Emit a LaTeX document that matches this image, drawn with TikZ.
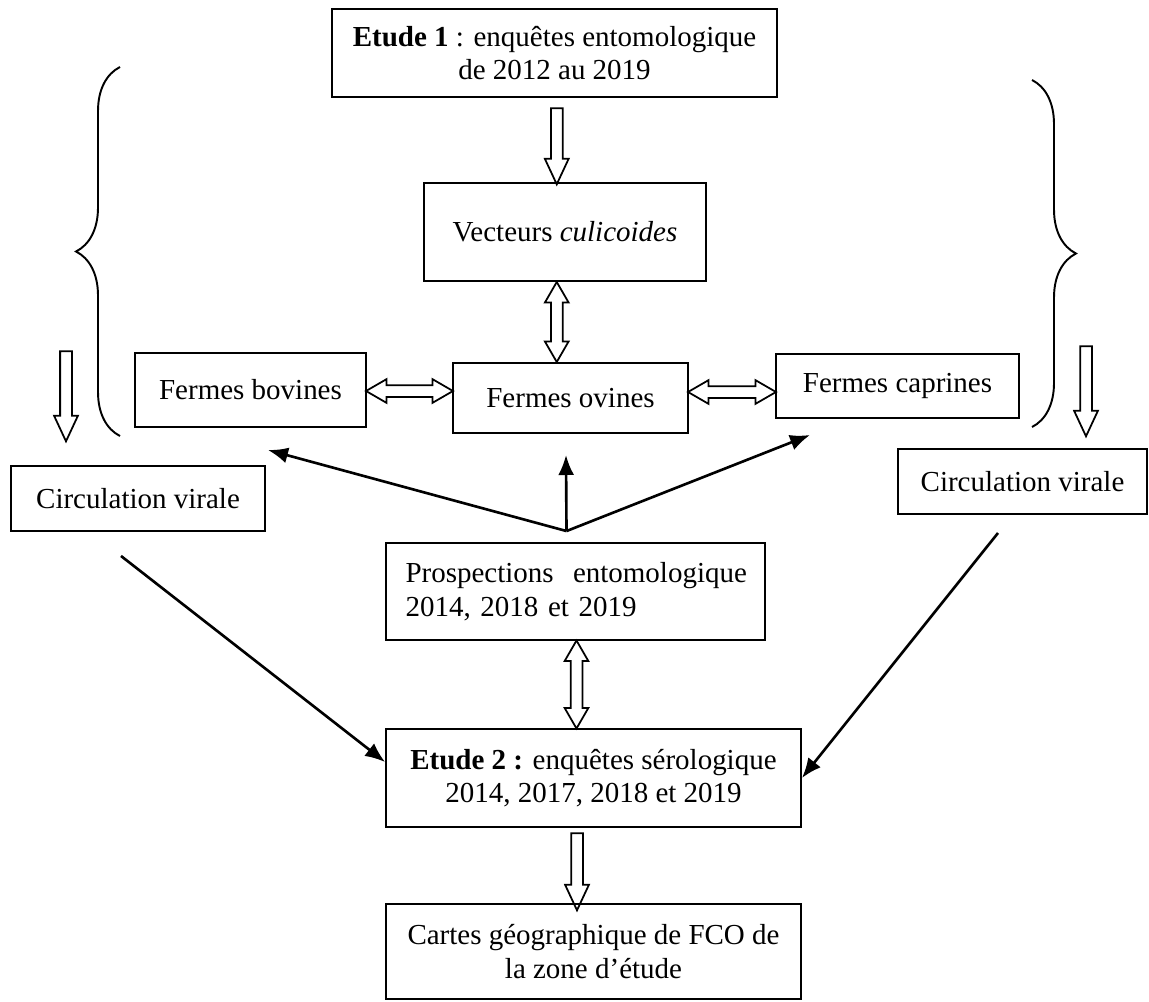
\documentclass[tikz,border=0pt]{standalone}
\usepackage{fontspec}
\setmainfont{Liberation Serif}
\usetikzlibrary{arrows.meta,calc,shapes.arrows,decorations.pathreplacing}
\tikzset{
  box/.style={draw,line width=1.1pt,inner sep=0pt,align=center,font=\fontsize{16.5}{19}\selectfont},
  hollow/.style={single arrow,draw,line width=1pt,inner sep=0pt,text height=0.1cm,text depth=0.1cm,single arrow head extend=0.12cm,single arrow tip angle=50},
  hollowtwo/.style={double arrow,draw,line width=1pt,inner sep=0pt,text height=0.1cm,text depth=0.1cm,double arrow head extend=0.12cm,double arrow tip angle=60},
  link/.style={-{Latex[length=4mm,width=3.2mm]},line width=1.5pt},
  bracket/.style={decorate,decoration={brace,amplitude=0.88cm},line width=1.1pt}
}

\begin{document}
\begin{tikzpicture}[x=0.02cm,y=-0.02cm]
    \useasboundingbox (0,0) rectangle (1149,1001);
    % boxes
    \node[box,minimum width=8.9cm,minimum height=1.76cm] (etude1) at (554.5,53) {\textbf{Etude 1} : enquêtes entomologique\\de 2012 au 2019};
    \node[box,minimum width=5.64cm,minimum height=1.96cm] (vecteurs) at (565,232) {Vecteurs \textit{culicoides}};
    \node[box,minimum width=4.62cm,minimum height=1.48cm] (bovines) at (250.5,390) {Fermes bovines};
    \node[box,minimum width=4.7cm,minimum height=1.4cm] (ovines) at (570.5,398) {Fermes ovines};
    \node[box,minimum width=4.86cm,minimum height=1.28cm] (caprines) at (897.5,386) {Fermes caprines};
    \node[box,minimum width=5.08cm,minimum height=1.3cm] (circL) at (138,498.5) {Circulation virale};
    \node[box,minimum width=4.98cm,minimum height=1.3cm] (circR) at (1022.5,481.5) {Circulation virale};
    \node[box,minimum width=7.58cm,minimum height=1.94cm,text width=6.8cm,align=left] (prosp) at (575.5,591.5) {\mbox{Prospections\ \ entomologique}\\2014, 2018 et 2019};
    \node[box,minimum width=8.3cm,minimum height=1.96cm] (etude2) at (593.5,778) {\textbf{Etude 2 :} enquêtes sérologique\\2014, 2017, 2018 et 2019};
    \node[box,minimum width=8.3cm,minimum height=1.9cm] (cartes) at (593.5,951.5) {Cartes géographique de FCO de\\la zone d’étude};
    % hollow arrows
    \node[hollow,rotate=-90,minimum height=1.52cm] (down1) at ($(etude1.south)!0.5!(vecteurs.north)+(-3,0)$) {};
    \node[hollowtwo,rotate=90,minimum height=1.6cm] (both1) at ($(vecteurs.south)!0.5!(ovines.north)+(-11,0)$) {};
    \node[hollowtwo,minimum height=1.74cm] (both2) at ($(bovines.east)!0.5!(ovines.west)+(0,-3)$) {};
    \node[hollowtwo,minimum height=1.76cm] (both3) at ($(ovines.east)!0.5!(caprines.west)$) {};
    \node[hollowtwo,rotate=90,minimum height=1.76cm] (both4) at ($(prosp.south)!0.5!(etude2.north)+(-8,0)$) {};
    \node[hollow,rotate=-90,minimum height=1.54cm] (down2) at ($(etude2.south)!0.5!(cartes.north)+(-16.5,0)$) {};
    \node[hollow,rotate=-90,minimum height=1.8cm] (downL) at (66,390) {};
    \node[hollow,rotate=-90,minimum height=1.8cm] (downR) at (1086,385) {};
    % braces
    \draw[bracket] (120,436) -- (120,67);
    \draw[bracket] (1032,80) -- (1032,427);
    % plain arrows
    \coordinate (apex) at ($(prosp.north)+(-9,-11)$);
    \coordinate (tipL) at (268,450);
    \coordinate (tipM) at (566,455);
    \coordinate (tipR) at (810,435);
    \draw[link] (apex) -- (tipL);
    \draw[link] (apex) -- (tipM);
    \draw[link] (apex) -- (tipR);
    \coordinate (cl) at ($(circL.south)+(-17,24)$);
    \coordinate (cr) at ($(circR.south)+(-24.5,18)$);
    \draw[link] (cl) -- ($(etude2.west)+(0,-16)$);
    \draw[link] (cr) -- (etude2.east);
\end{tikzpicture}
\end{document}
